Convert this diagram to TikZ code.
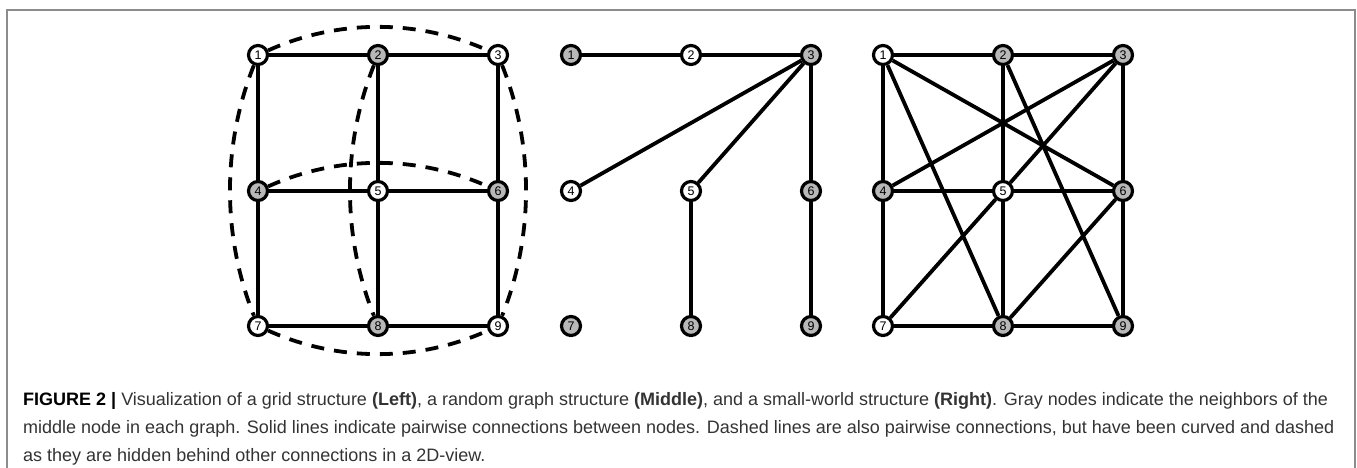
\documentclass[tikz,border=0pt]{standalone}
\usepackage{fontspec}
\setmainfont{Liberation Sans}
\definecolor{nodegray}{gray}{0.72}
\definecolor{framegray}{gray}{0.55}
\definecolor{captext}{gray}{0.2}
\begin{document}
\begin{tikzpicture}[x=1pt,y=-1pt,
  vtx/.style={circle,draw=black,line width=3.2pt,minimum size=19pt,inner sep=0pt,
              font=\fontsize{12.5}{12.5}\selectfont,fill=white},
  gvtx/.style={vtx,fill=nodegray},
  edge/.style={line width=3.8pt,black},
  hid/.style={line width=3.8pt,black,dash pattern=on 13pt off 10pt},
  captionline/.style={anchor=base west,inner sep=0pt,text=captext,font=\fontsize{18}{18}\selectfont}]
\useasboundingbox (0,0) rectangle (1357,468);
\clip (0,0) rectangle (1357,468);
\draw[framegray,line width=1.8pt] (7,490) -- (7,10) -- (1355,10) -- (1355,490);

% ---------- Left: grid ----------
\node[vtx]  (L1) at (258,55) {1};
\node[gvtx] (L2) at (378,55) {2};
\node[vtx]  (L3) at (498,55) {3};
\node[gvtx] (L4) at (258,191) {4};
\node[vtx]  (L5) at (378,191) {5};
\node[gvtx] (L6) at (498,191) {6};
\node[vtx]  (L7) at (258,326) {7};
\node[gvtx] (L8) at (378,326) {8};
\node[vtx]  (L9) at (498,326) {9};
\draw[edge] (L1)--(L2) (L2)--(L3) (L4)--(L5) (L5)--(L6) (L7)--(L8) (L8)--(L9)
            (L1)--(L4) (L4)--(L7) (L2)--(L5) (L5)--(L8) (L3)--(L6) (L6)--(L9);
\draw[hid] (L1) .. controls +(80,-36) and +(-80,-36) .. (L3);
\draw[hid] (L7) .. controls +(80,36) and +(-80,36) .. (L9);
\draw[hid] (L4) .. controls +(80,-36) and +(-80,-36) .. (L6);
\draw[hid] (L1) .. controls +(-36,90) and +(-36,-90) .. (L7);
\draw[hid] (L2) .. controls +(-36,90) and +(-36,-90) .. (L8);
\draw[hid] (L3) .. controls +(36,90) and +(36,-90) .. (L9);

% ---------- Middle: random graph ----------
\node[gvtx] (M1) at (571,55) {1};
\node[vtx]  (M2) at (691,55) {2};
\node[gvtx] (M3) at (811,55) {3};
\node[vtx]  (M4) at (571,191) {4};
\node[vtx]  (M5) at (691,191) {5};
\node[gvtx] (M6) at (811,191) {6};
\node[gvtx] (M7) at (571,326) {7};
\node[gvtx] (M8) at (691,326) {8};
\node[gvtx] (M9) at (811,326) {9};
\draw[edge] (M1)--(M2) (M2)--(M3) (M3)--(M4) (M3)--(M5) (M3)--(M6)
            (M6)--(M9) (M5)--(M8);

% ---------- Right: small world ----------
\node[vtx]  (R1) at (883,55) {1};
\node[gvtx] (R2) at (1003,55) {2};
\node[gvtx] (R3) at (1123,55) {3};
\node[gvtx] (R4) at (883,191) {4};
\node[vtx]  (R5) at (1003,191) {5};
\node[gvtx] (R6) at (1123,191) {6};
\node[vtx]  (R7) at (883,326) {7};
\node[gvtx] (R8) at (1003,326) {8};
\node[gvtx] (R9) at (1123,326) {9};
\draw[edge] (R1)--(R2) (R2)--(R3) (R4)--(R5) (R5)--(R6) (R7)--(R8) (R8)--(R9)
            (R1)--(R4) (R4)--(R7) (R2)--(R5) (R5)--(R8) (R3)--(R6) (R6)--(R9)
            (R1)--(R6) (R1)--(R8) (R2)--(R9) (R3)--(R4) (R3)--(R5) (R5)--(R7) (R6)--(R8);

% ---------- Caption ----------
\node[captionline] (c1) at (23,405) {\textbf{\color{black}FIGURE 2 |} Visualization of a grid structure \textbf{(Left)}, a random graph structure \textbf{(Middle)}, and a small-world structure \textbf{(Right)}. Gray nodes indicate the neighbors of the};
\node[captionline] (c2) at (23,433) {middle node in each graph. Solid lines indicate pairwise connections between nodes. Dashed lines are also pairwise connections, but have been curved and dashed};
\node[captionline] (c3) at (23,461) {as they are hidden behind other connections in a 2D-view.};
\end{tikzpicture}
\end{document}
